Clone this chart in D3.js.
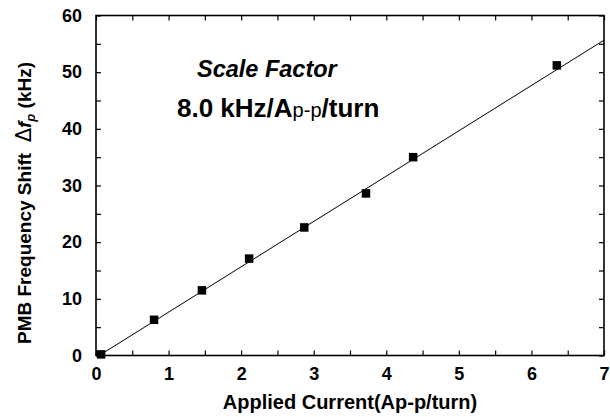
<!DOCTYPE html>
<html>
<head>
<meta charset="utf-8">
<script src="https://cdn.jsdelivr.net/npm/d3@7"></script>
<style>
  html, body { margin: 0; padding: 0; background: #fff; }
  svg { display: block; font-family: "Liberation Sans", Arial, Helvetica, sans-serif; }
</style>
</head>
<body>
<svg id="chart" width="610" height="417"></svg>
<script>
// Measured PMB frequency shift versus applied current
const current = [0.07, 0.80, 1.46, 2.11, 2.87, 3.72, 4.37, 6.35];   // Ap-p/turn
const shift   = [0.2, 6.3, 11.5, 17.1, 22.6, 28.6, 35.0, 51.2];     // kHz

// Linear fit: 8.0 kHz per Ap-p/turn
const fitSlope = 8.0;
const fitIntercept = -0.35;
const fitRange = [0.07, 7];

// Axis ticks
const xMajorTicks = [0, 1, 2, 3, 4, 5, 6, 7];
const xMinorTicks = [0.5, 1.5, 2.5, 3.5, 4.5, 5.5, 6.5];
const yMajorTicks = [0, 10, 20, 30, 40, 50, 60];
const yMinorTicks = [5, 15, 25, 35, 45, 55];

const W = 610, H = 417;
const margin = { left: 96, right: 6, top: 15.5, bottom: 61.5 };
const svg = d3.select("#chart");

const x = d3.scaleLinear().domain([0, 7]).range([margin.left, W - margin.right]);
const y = d3.scaleLinear().domain([0, 60]).range([H - margin.bottom, margin.top]);

const tickLen = 5;
const axisStyle = g => {
  g.select(".domain").remove();
  g.selectAll(".tick line").attr("stroke", "#000").attr("stroke-width", 1.2);
};

// Bottom axis with labels, inward ticks
const gx = svg.append("g").attr("transform", `translate(0,${y(0)})`)
  .call(d3.axisBottom(x).tickValues(xMajorTicks).tickFormat(d3.format("d"))
    .tickSizeInner(-tickLen).tickSizeOuter(0).tickPadding(12))
  .call(axisStyle);
gx.selectAll("text").attr("font-size", 18).attr("font-weight", "bold").attr("fill", "#000");
svg.append("g").attr("transform", `translate(0,${y(0)})`)
  .call(d3.axisBottom(x).tickValues(xMinorTicks).tickFormat("").tickSizeInner(-tickLen).tickSizeOuter(0))
  .call(axisStyle);

// Top mirror ticks
svg.append("g").attr("transform", `translate(0,${y(60)})`)
  .call(d3.axisTop(x).tickValues(xMajorTicks.concat(xMinorTicks)).tickFormat("").tickSizeInner(-tickLen).tickSizeOuter(0))
  .call(axisStyle);

// Left axis with labels
const gy = svg.append("g").attr("transform", `translate(${x(0)},0)`)
  .call(d3.axisLeft(y).tickValues(yMajorTicks).tickFormat(d3.format("d"))
    .tickSizeInner(-tickLen).tickSizeOuter(0).tickPadding(14))
  .call(axisStyle);
gy.selectAll("text").attr("font-size", 18).attr("font-weight", "bold").attr("fill", "#000");
svg.append("g").attr("transform", `translate(${x(0)},0)`)
  .call(d3.axisLeft(y).tickValues(yMinorTicks).tickFormat("").tickSizeInner(-tickLen).tickSizeOuter(0))
  .call(axisStyle);

// Right mirror ticks
svg.append("g").attr("transform", `translate(${x(7)},0)`)
  .call(d3.axisRight(y).tickValues(yMajorTicks.concat(yMinorTicks)).tickFormat("").tickSizeInner(-tickLen).tickSizeOuter(0))
  .call(axisStyle);

// Frame
svg.append("rect")
  .attr("x", x(0)).attr("y", y(60))
  .attr("width", x(7) - x(0)).attr("height", y(0) - y(60))
  .attr("fill", "none").attr("stroke", "#000").attr("stroke-width", 1.6);

// Fit line
svg.append("line")
  .attr("x1", x(fitRange[0])).attr("y1", y(fitSlope * fitRange[0] + fitIntercept))
  .attr("x2", x(fitRange[1])).attr("y2", y(fitSlope * fitRange[1] + fitIntercept))
  .attr("stroke", "#000").attr("stroke-width", 1);

// Data markers
const sq = 8.5;
svg.append("g").selectAll("rect")
  .data(current.map((c, i) => [c, shift[i]]))
  .join("rect")
  .attr("x", d => x(d[0]) - sq / 2).attr("y", d => y(d[1]) - sq / 2)
  .attr("width", sq).attr("height", sq).attr("fill", "#000");

// Axis titles
svg.append("text")
  .attr("x", (x(0) + x(7)) / 2).attr("y", 409)
  .attr("text-anchor", "middle").attr("font-size", 20).attr("font-weight", "bold")
  .text("Applied Current(Ap-p/turn)");

const yl = svg.append("text")
  .attr("transform", "translate(31,344) rotate(-90)")
  .attr("font-size", 19).attr("font-weight", "bold");
yl.append("tspan").text("PMB Frequency Shift\u00a0\u00a0");
yl.append("tspan").attr("font-weight", "normal").attr("font-family", "DejaVu Sans").attr("font-size", 21).text("\u0394");
yl.append("tspan").attr("font-style", "italic").text("f");
yl.append("tspan").attr("font-style", "italic").attr("font-size", 13).attr("dy", 4).text("p");
yl.append("tspan").attr("dy", -4).text(" (kHz)");

// Scale factor annotation
svg.append("text")
  .attr("x", 197).attr("y", 77)
  .attr("font-size", 23.5).attr("font-weight", "bold").attr("font-style", "italic")
  .text("Scale Factor");
const sf = svg.append("text")
  .attr("x", 177).attr("y", 117)
  .attr("font-size", 26).attr("font-weight", "bold");
sf.append("tspan").text("8.0 kHz/A");
sf.append("tspan").attr("font-weight", "normal").attr("font-size", 20).text("p-p");
sf.append("tspan").text("/turn");
</script>
</body>
</html>
